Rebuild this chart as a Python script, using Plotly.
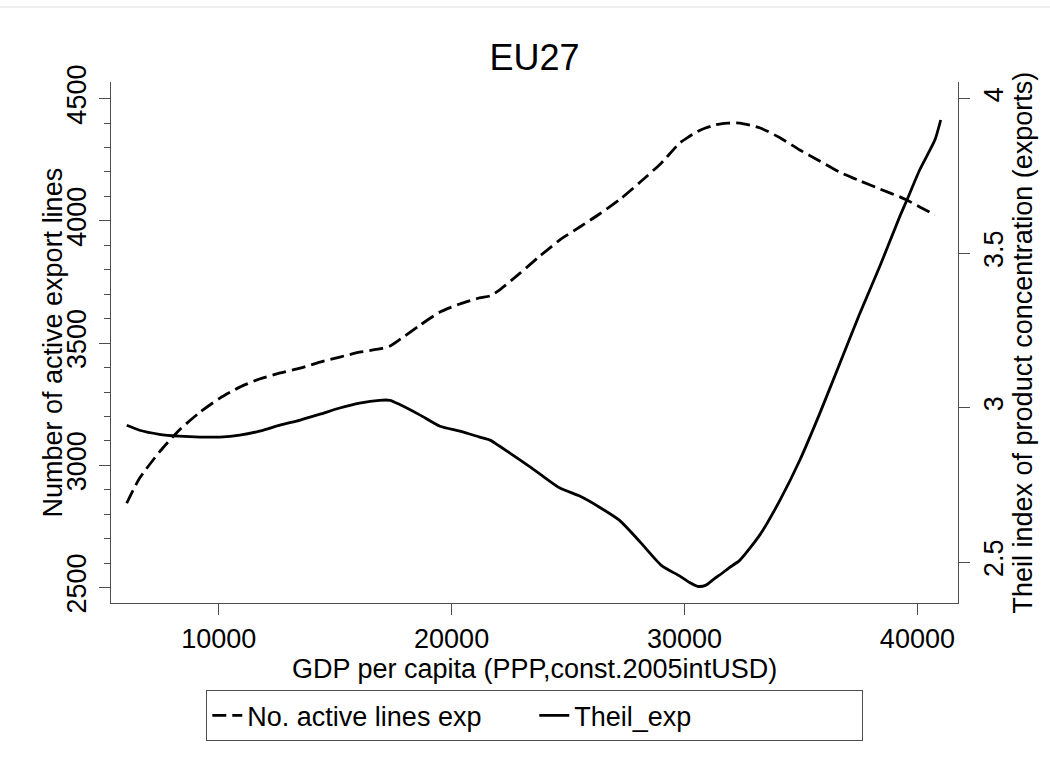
import plotly.graph_objects as go

# GDP per capita (PPP, constant 2005 int. USD) along the smoothed curves
gdp = [6050, 6600, 7450, 8300, 9200, 10050, 10900, 11750, 12600, 13500,
       14350, 15200, 16050, 16900, 17350, 17750, 18650, 19500, 20350, 21200,
       21650, 22050, 22900, 23800, 24650, 25500, 26350, 27200, 28100, 29000,
       29800, 30200, 30560, 30900, 31300, 31500, 31900, 32370, 33250, 34100,
       34950, 35800, 36650, 37500, 38400, 39250, 39550, 40100, 40750, 41000]

# Number of active export lines (left axis)
active_lines = [2845, 2947, 3054, 3144, 3218, 3275, 3320, 3353, 3377, 3398,
                3422, 3443, 3463, 3476, 3488, 3513, 3574, 3627, 3660, 3685,
                3693, 3717, 3783, 3857, 3922, 3975, 4028, 4086, 4159, 4236,
                4319, 4345, 4366, 4380, 4392, 4396, 4400, 4400, 4380, 4340,
                4290, 4245, 4200, 4165, 4130, 4098, 4085, 4057, 4024, None]

# Theil index of product concentration, exports (right axis)
theil = [2.943, 2.927, 2.914, 2.908, 2.905, 2.905, 2.911, 2.924, 2.943, 2.960,
         2.979, 2.999, 3.015, 3.024, 3.024, 3.011, 2.976, 2.940, 2.924, 2.905,
         2.895, 2.876, 2.833, 2.785, 2.740, 2.714, 2.678, 2.636, 2.565, 2.490,
         2.455, 2.435, 2.422, 2.425, 2.448, 2.458, 2.481, 2.506, 2.590, 2.701,
         2.830, 2.980, 3.140, 3.300, 3.460, 3.620, 3.672, 3.770, 3.866, 3.931]

x_ticks = [10000, 20000, 30000, 40000]
left_ticks = [2500, 3000, 3500, 4000, 4500]
right_ticks = [2.5, 3, 3.5, 4]

FONT = "Liberation Sans, Arial, Helvetica, sans-serif"
AXIS_GREY = "#4d4d4d"

# plot-area geometry (pixels)
W, H = 1050, 771
L, R, T, B = 111, 92, 82, 168
PW, PH = W - L - R, H - T - B

fig = go.Figure()
fig.add_trace(go.Scatter(
    x=gdp, y=active_lines, mode="lines", name="No. active lines exp",
    line=dict(color="black", width=2.8, dash="14px,6px",
              shape="spline", smoothing=0.6),
    connectgaps=False, yaxis="y"))
fig.add_trace(go.Scatter(
    x=gdp, y=theil, mode="lines", name="Theil_exp",
    line=dict(color="black", width=2.8, shape="spline", smoothing=0.6),
    yaxis="y2"))

axis_common = dict(
    showline=True, linecolor=AXIS_GREY, linewidth=1.3, mirror=False,
    showgrid=False, zeroline=False, ticks="outside", ticklen=11,
    tickcolor=AXIS_GREY, tickwidth=1.3, automargin=False,
    tickfont=dict(size=27, color="black", family=FONT),
)

fig.update_layout(
    width=W, height=H,
    margin=dict(l=L, r=R, t=T, b=B),
    paper_bgcolor="white", plot_bgcolor="white",
    font=dict(family=FONT, color="black", size=27),
    title=dict(text="EU27", font=dict(size=36, family=FONT, color="black"),
               x=0.5, xref="paper", xanchor="center",
               y=1 - 57 / H, yref="container", yanchor="middle"),
    xaxis=dict(range=[5375, 41743], tickvals=x_ticks, tickformat="d",
               title=dict(text="GDP per capita (PPP,const.2005intUSD)",
                          font=dict(size=27), standoff=0),
               **axis_common),
    yaxis=dict(range=[2437, 4568], tickvals=left_ticks, tickformat="d",
               tickangle=-90, ticklabelstandoff=2,
               minor=dict(dtick=100, ticks="outside", ticklen=6,
                          tickcolor=AXIS_GREY, tickwidth=1.3),
               **axis_common),
    yaxis2=dict(range=[2.368, 4.054], tickvals=right_ticks, tickangle=-90,
                overlaying="y", side="right", anchor="x",
                **axis_common),
    legend=dict(orientation="h", x=0.5, xanchor="center",
                y=-(690 - (T + PH)) / PH, yanchor="top",
                bordercolor=AXIS_GREY, borderwidth=1.3,
                font=dict(size=27, family=FONT, color="black"),
                entrywidth=282, entrywidthmode="pixels",
                itemwidth=30),
    showlegend=True,
)

# vertical axis titles
fig.add_annotation(text="Number of active export lines", textangle=-90,
                   xref="paper", yref="paper", x=(52 - L) / PW, y=0.5,
                   xanchor="center", yanchor="middle", showarrow=False,
                   font=dict(size=27, family=FONT, color="black"))
fig.add_annotation(text="Theil index of product concentration (exports)",
                   textangle=-90, xref="paper", yref="paper",
                   x=(1022 - L) / PW, y=0.5, xanchor="center",
                   yanchor="middle", showarrow=False,
                   font=dict(size=27, family=FONT, color="black"))

# thin frame line near the top edge of the graph region
fig.add_shape(type="line", xref="paper", yref="paper",
              x0=-L / PW, x1=(W - L) / PW,
              y0=1 + (T - 7) / PH, y1=1 + (T - 7) / PH,
              line=dict(color="#e8e8e8", width=1.5))

fig.write_html("out.html")
